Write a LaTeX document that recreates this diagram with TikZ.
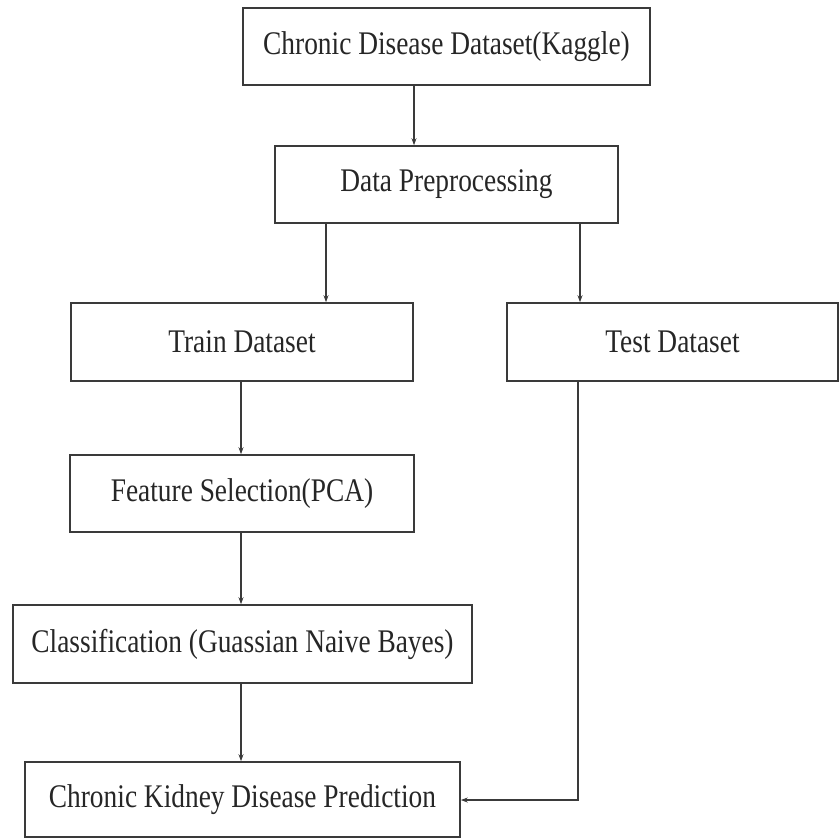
\documentclass[tikz,border=0pt]{standalone}
\usepackage{fontspec}
\setmainfont{Liberation Serif}[FakeStretch=0.83]
\usetikzlibrary{arrows.meta}
\definecolor{ink}{HTML}{262626}
\definecolor{edge}{HTML}{3A3A3A}
\begin{document}
\begin{tikzpicture}[x=1pt,y=-1pt,
  box/.style={draw=edge, line width=1.6pt, rectangle, inner sep=0pt, text=ink,
    font=\fontsize{33}{38}\selectfont},
  conn/.style={draw=edge, line width=1.5pt, -{Stealth[length=7pt,width=5pt]}}]
\useasboundingbox (0,0) rectangle (840,839);
\node[box, minimum width=407pt, minimum height=77pt] (b1) at (446.5,46.5) {Chronic Disease Dataset(Kaggle)};
\node[box, minimum width=343pt, minimum height=77pt] (b2) at (446.5,184.5) {Data Preprocessing};
\node[box, minimum width=342pt, minimum height=78pt] (b3) at (242,342) {Train Dataset};
\node[box, minimum width=331pt, minimum height=78pt] (b4) at (672.5,342) {Test Dataset};
\node[box, minimum width=344pt, minimum height=77pt] (b5) at (242,493.5) {Feature Selection(PCA)};
\node[box, minimum width=459pt, minimum height=78pt] (b6) at (242.5,644) {Classification (Guassian Naive Bayes)};
\node[box, minimum width=435pt, minimum height=75pt] (b7) at (242.5,799.5) {Chronic Kidney Disease Prediction};
\draw[conn] (b1.south -| 414,0) -- (b2.north -| 414,0);
\draw[conn] (b2.south -| 326,0) -- (b3.north -| 326,0);
\draw[conn] (b2.south -| 580,0) -- (b4.north -| 580,0);
\draw[conn] (b3.south -| 241,0) -- (b5.north -| 241,0);
\draw[conn] (b5.south -| 241,0) -- (b6.north -| 241,0);
\draw[conn] (b6.south -| 241,0) -- (b7.north -| 241,0);
\coordinate (tc) at (578,800);
\draw[conn] (b4.south -| tc) -- (tc) -- (b7.east |- tc);
\end{tikzpicture}
\end{document}
